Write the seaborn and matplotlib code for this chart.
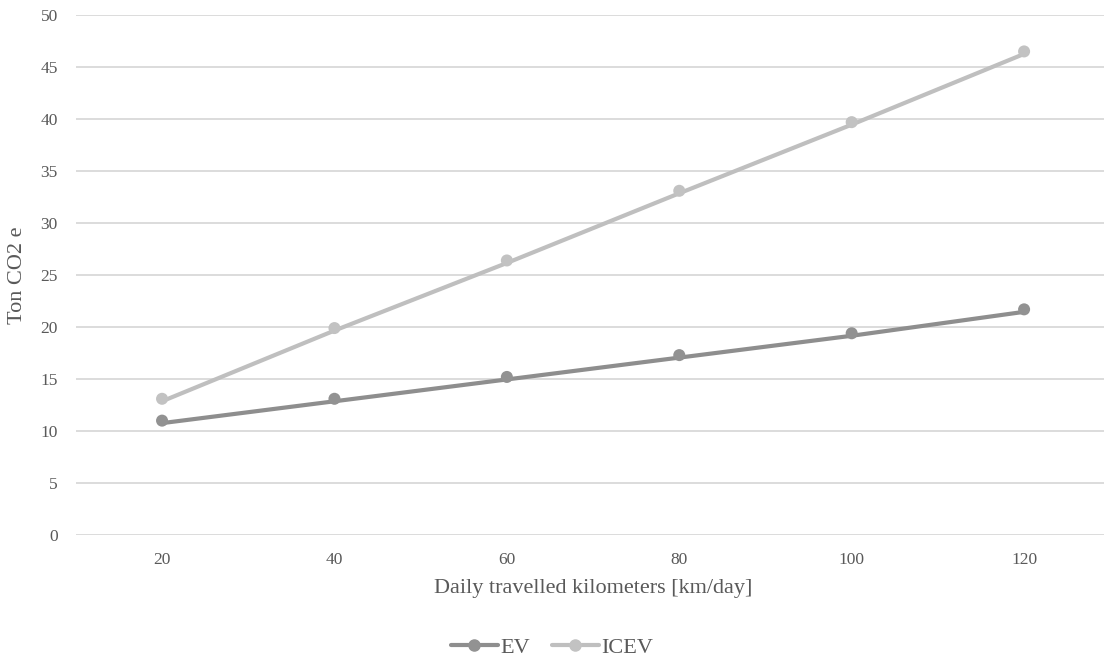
import matplotlib
matplotlib.use("Agg")
import matplotlib.pyplot as plt
import matplotlib.transforms as mtransforms
from matplotlib.lines import Line2D
import seaborn as sns
import pandas as pd

# Emissions over the vehicle lifetime vs. daily distance
km_per_day = ["20", "40", "60", "80", "100", "120"]
ev_values = [11.0, 13.1, 15.2, 17.3, 19.4, 21.7]
icev_values = [13.1, 19.9, 26.4, 33.1, 39.7, 46.5]

series_names = ["EV", "ICEV"]
line_colors = {"EV": "#8e8e8e", "ICEV": "#bfbfbf"}
marker_colors = {"EV": "#929292", "ICEV": "#c2c2c2"}
text_color = "#595959"
grid_color = "#d9d9d9"

df = pd.DataFrame({
    "pos": list(range(len(km_per_day))) * 2,
    "value": ev_values + icev_values,
    "series": ["EV"] * len(ev_values) + ["ICEV"] * len(icev_values),
})

sns.set_theme(style="white")
plt.rcParams["font.family"] = ["Liberation Serif", "DejaVu Serif"]

fig = plt.figure(figsize=(11.04, 6.62), dpi=100)
ax = fig.add_axes([0.0687, 0.1918, 0.937, 0.7855])

# lines sit a touch below the markers
shift = mtransforms.ScaledTranslation(0, -2.5 / 100, fig.dpi_scale_trans)
for name in series_names:
    sub = df[df["series"] == name]
    sns.lineplot(data=sub, x="pos", y="value", ax=ax, color=line_colors[name],
                 linewidth=3.0, legend=False, zorder=3,
                 transform=ax.transData + shift)
    sns.scatterplot(data=sub, x="pos", y="value", ax=ax, color=marker_colors[name],
                    s=75, edgecolor="none", legend=False, zorder=4)

ax.set_xlim(-0.5, len(km_per_day) - 0.5)
ax.set_ylim(0, 50)
ax.set_yticks(range(0, 51, 5))
ax.set_xticks(range(len(km_per_day)))
ax.set_xticklabels(km_per_day)
ax.yaxis.grid(True, color=grid_color, linewidth=1.3)
ax.xaxis.grid(False)
ax.set_axisbelow(True)
for sp in ax.spines.values():
    sp.set_visible(False)
ax.tick_params(axis="both", length=0, labelsize=12.5, labelcolor=text_color)
ax.tick_params(axis="y", pad=13)
ax.tick_params(axis="x", pad=12)

ax.set_xlabel("Daily travelled kilometers [km/day]", fontsize=16, color=text_color, labelpad=8)
ax.set_ylabel("Ton CO2 e", fontsize=16, color=text_color, labelpad=10)

handles = [Line2D([0], [0], color=line_colors[n], linewidth=3.0, marker="o",
                  markersize=8, markerfacecolor=marker_colors[n],
                  markeredgecolor=marker_colors[n]) for n in series_names]
fig.legend(handles, series_names, loc="center", bbox_to_anchor=(0.5, 0.022),
           ncol=2, frameon=False, fontsize=16, handlelength=2.1,
           handletextpad=0.1, columnspacing=1.0, labelcolor=text_color)

fig.savefig("out.png", dpi=100)
